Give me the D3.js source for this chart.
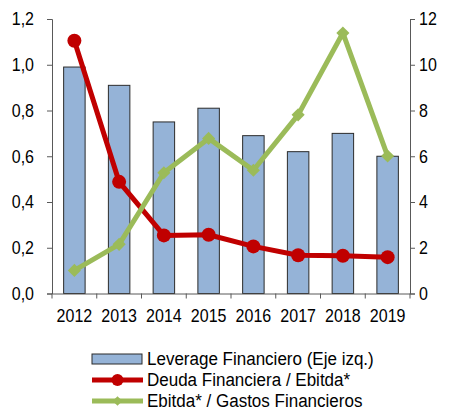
<!DOCTYPE html>
<html>
<head>
<meta charset="utf-8">
<script src="https://cdn.jsdelivr.net/npm/d3@7"></script>
<style>
  body { margin: 0; background: #fff; }
  svg text { font-family: "Liberation Sans", Arial, sans-serif; fill: #000; }
</style>
</head>
<body>
<svg id="here"></svg>
<script>
// data
const years = ["2012", "2013", "2014", "2015", "2016", "2017", "2018", "2019"];
const leverage = [0.99, 0.91, 0.75, 0.81, 0.69, 0.62, 0.70, 0.60];
const deudaEbitda = [11.05, 4.88, 2.54, 2.57, 2.06, 1.67, 1.65, 1.59];
const ebitdaGastos = [1.01, 2.15, 5.28, 6.78, 5.39, 7.81, 11.39, 6.01];
const leftTicks = [0, 0.2, 0.4, 0.6, 0.8, 1.0, 1.2];
const rightTicks = [0, 2, 4, 6, 8, 10, 12];
const legendLabels = ["Leverage Financiero (Eje izq.)", "Deuda Financiera / Ebitda*", "Ebitda* / Gastos Financieros"];

const width = 449, height = 413;
const margin = {top: 19, right: 39, bottom: 120, left: 52};
const fmt = d => d3.format(".1f")(d).replace(".", ",");
const sx = 0.89; // text in the original is a bit condensed
const sxLeg = 0.945;
const fs = "18px";

const svg = d3.select("#here").attr("width", width).attr("height", height);

const x = d3.scaleBand().domain(years)
  .range([margin.left, width - margin.right]).paddingInner(0).paddingOuter(0);
const yL = d3.scaleLinear().domain([0, 1.2]).range([height - margin.bottom + 0.5, margin.top]);
const yR = d3.scaleLinear().domain([0, 12]).range([height - margin.bottom + 0.5, margin.top]);

const axisCol = "#595959";

// bars
const bw = x.bandwidth() * 0.48;
svg.append("g").selectAll("rect")
  .data(leverage)
  .enter().append("rect")
  .attr("x", (d, i) => x(years[i]) + (x.bandwidth() - bw) / 2)
  .attr("y", d => yL(d))
  .attr("width", bw)
  .attr("height", d => yL(0) - yL(d))
  .attr("fill", "#95B3D7")
  .attr("stroke", "#2b2b2b")
  .attr("stroke-width", 1);

// axes
const gL = svg.append("g")
  .attr("transform", `translate(${margin.left},0)`)
  .call(d3.axisLeft(yL).tickValues(leftTicks).tickFormat(fmt).tickSizeOuter(0).tickSize(5).tickPadding(13));
const gR = svg.append("g")
  .attr("transform", `translate(${width - margin.right},0)`)
  .call(d3.axisRight(yR).tickValues(rightTicks).tickSizeOuter(0).tickSize(5).tickPadding(4));
const gX = svg.append("g")
  .attr("transform", `translate(0,${yL(0)})`)
  .call(d3.axisBottom(x).tickSize(0).tickSizeOuter(0).tickPadding(16));

// x ticks between categories
gX.selectAll(".sep")
  .data(d3.range(years.length + 1))
  .enter().append("line")
  .attr("x1", i => margin.left + i * x.bandwidth())
  .attr("x2", i => margin.left + i * x.bandwidth())
  .attr("y1", 0).attr("y2", 5)
  .attr("stroke", axisCol);

[gL, gR, gX].forEach(g => {
  g.selectAll("path, line").attr("stroke", axisCol);
  g.selectAll("text").style("font-size", fs).attr("fill", "#000")
    .attr("x", function() { return +d3.select(this).attr("x") / sx; })
    .attr("transform", `scale(${sx},1)`);
});

const cx = i => x(years[i]) + x.bandwidth() / 2;

// red line
const lineR = d3.line().x((d, i) => cx(i)).y(d => yR(d));
svg.append("path").datum(deudaEbitda)
  .attr("fill", "none").attr("stroke", "#C00000").attr("stroke-width", 5)
  .attr("stroke-linejoin", "round").attr("d", lineR);
svg.append("g").selectAll("circle").data(deudaEbitda)
  .enter().append("circle")
  .attr("cx", (d, i) => cx(i)).attr("cy", d => yR(d)).attr("r", 7)
  .attr("fill", "#C00000");

// green line
svg.append("path").datum(ebitdaGastos)
  .attr("fill", "none").attr("stroke", "#9BBB59").attr("stroke-width", 5)
  .attr("stroke-linejoin", "round").attr("d", lineR);
const diamond = d3.symbol().type(d3.symbolDiamond2).size(110);
svg.append("g").selectAll("path").data(ebitdaGastos)
  .enter().append("path")
  .attr("transform", (d, i) => `translate(${cx(i)},${yR(d)})`)
  .attr("d", diamond)
  .attr("fill", "#9BBB59");

// legend
const lg = svg.append("g").attr("transform", "translate(92,0)");
const rowY = [359, 380, 401];
lg.append("rect").attr("x", 0).attr("y", rowY[0] - 5).attr("width", 50).attr("height", 10)
  .attr("fill", "#95B3D7").attr("stroke", "#2b2b2b");
lg.append("line").attr("x1", 0).attr("x2", 51).attr("y1", rowY[1]).attr("y2", rowY[1])
  .attr("stroke", "#C00000").attr("stroke-width", 5);
lg.append("circle").attr("cx", 25.5).attr("cy", rowY[1]).attr("r", 6).attr("fill", "#C00000");
lg.append("line").attr("x1", 0).attr("x2", 51).attr("y1", rowY[2]).attr("y2", rowY[2])
  .attr("stroke", "#9BBB59").attr("stroke-width", 5);
lg.append("path").attr("transform", `translate(25.5,${rowY[2]})`)
  .attr("d", d3.symbol().type(d3.symbolDiamond2).size(60)).attr("fill", "#9BBB59");
lg.selectAll("text.lab").data(legendLabels)
  .enter().append("text")
  .attr("x", 55 / sxLeg).attr("y", (d, i) => rowY[i])
  .attr("dy", "0.35em")
  .attr("transform", `scale(${sxLeg},1)`)
  .style("font-size", fs)
  .text(d => d);
</script>
</body>
</html>
